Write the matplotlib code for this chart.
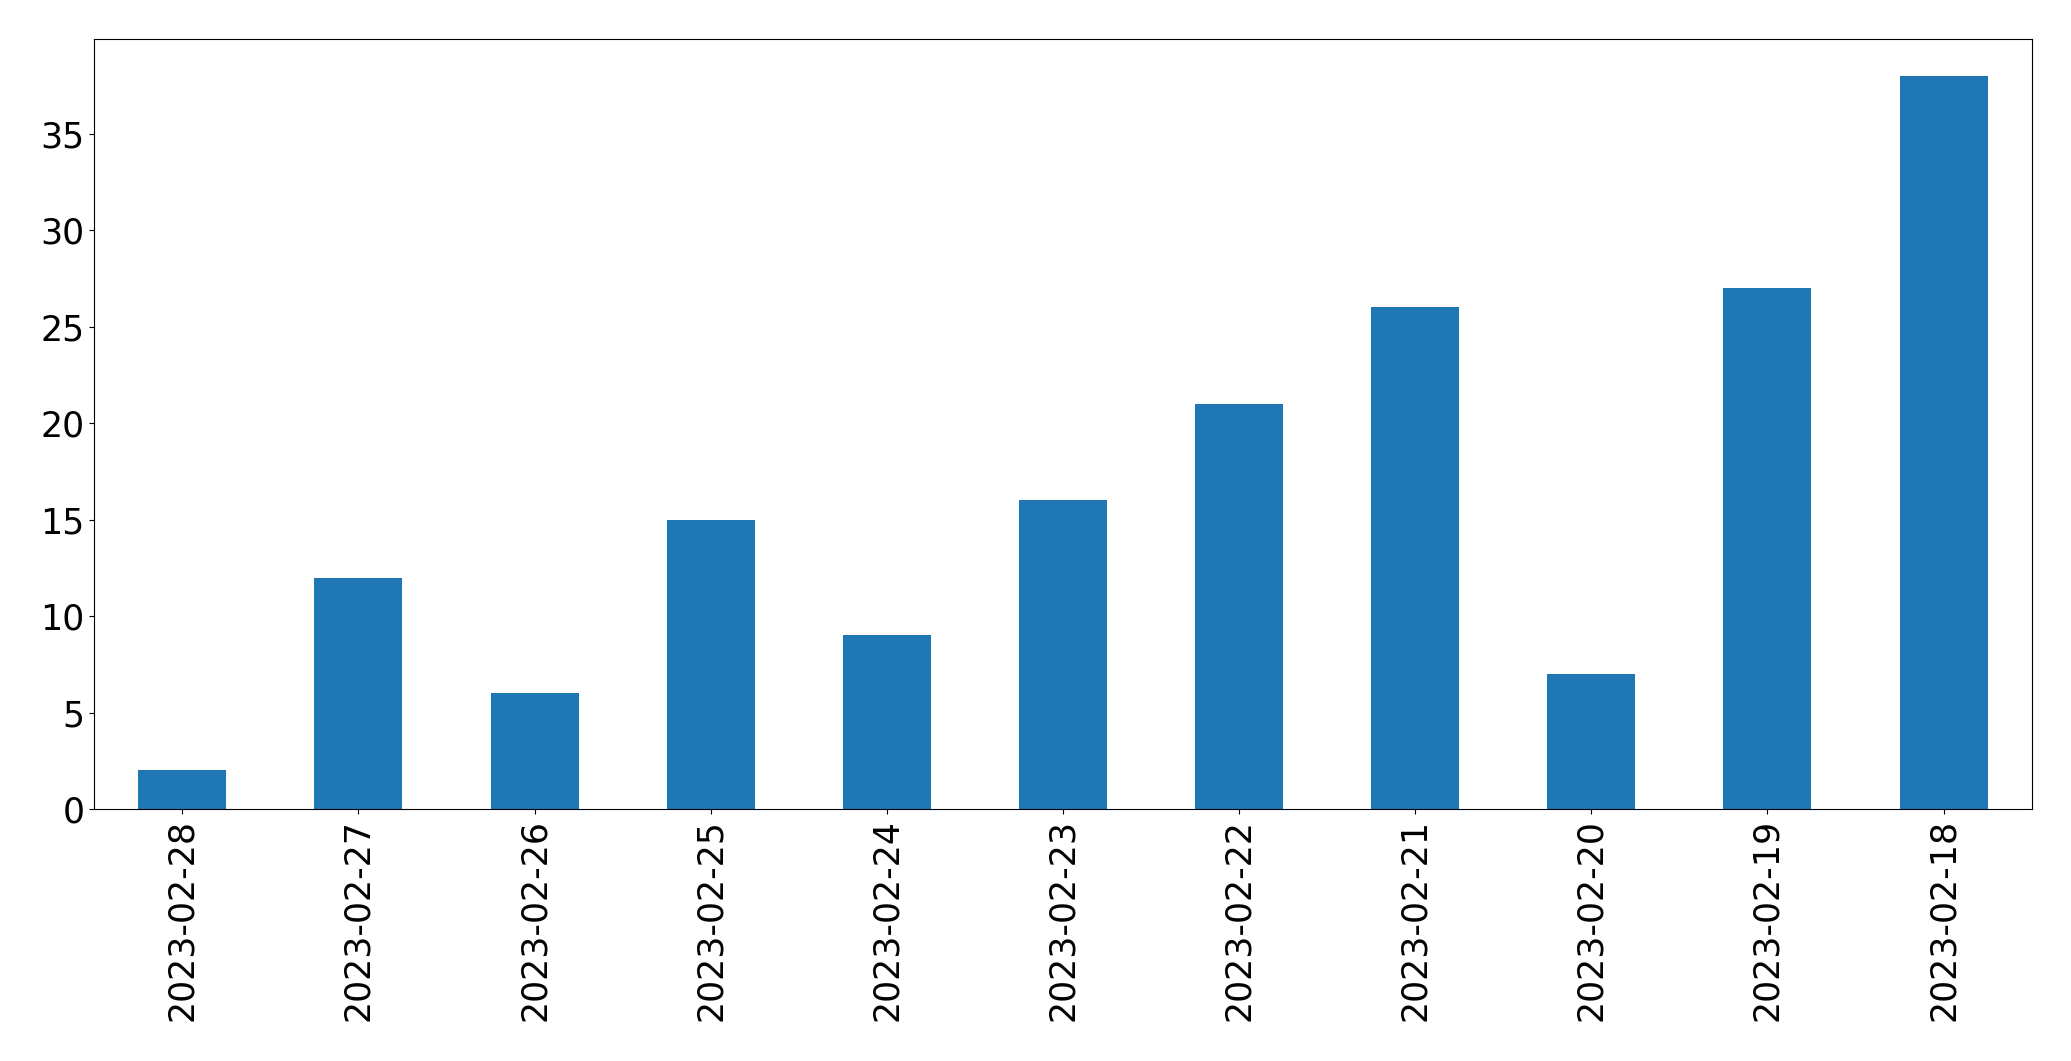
import matplotlib
matplotlib.use("Agg")
import matplotlib.pyplot as plt
import pandas as pd

dates = ["2023-02-28", "2023-02-27", "2023-02-26", "2023-02-25", "2023-02-24",
         "2023-02-23", "2023-02-22", "2023-02-21", "2023-02-20", "2023-02-19",
         "2023-02-18"]
counts = [2, 12, 6, 15, 9, 16, 21, 26, 7, 27, 38]

s = pd.Series(counts, index=dates)

fig, ax = plt.subplots(figsize=(20.71, 10.61), dpi=100)
s.plot(kind="bar", ax=ax, color="#1f77b4", fontsize=25)
fig.subplots_adjust(left=0.0455, right=0.981, top=0.963, bottom=0.2375)

fig.savefig("out.png", dpi=100)
